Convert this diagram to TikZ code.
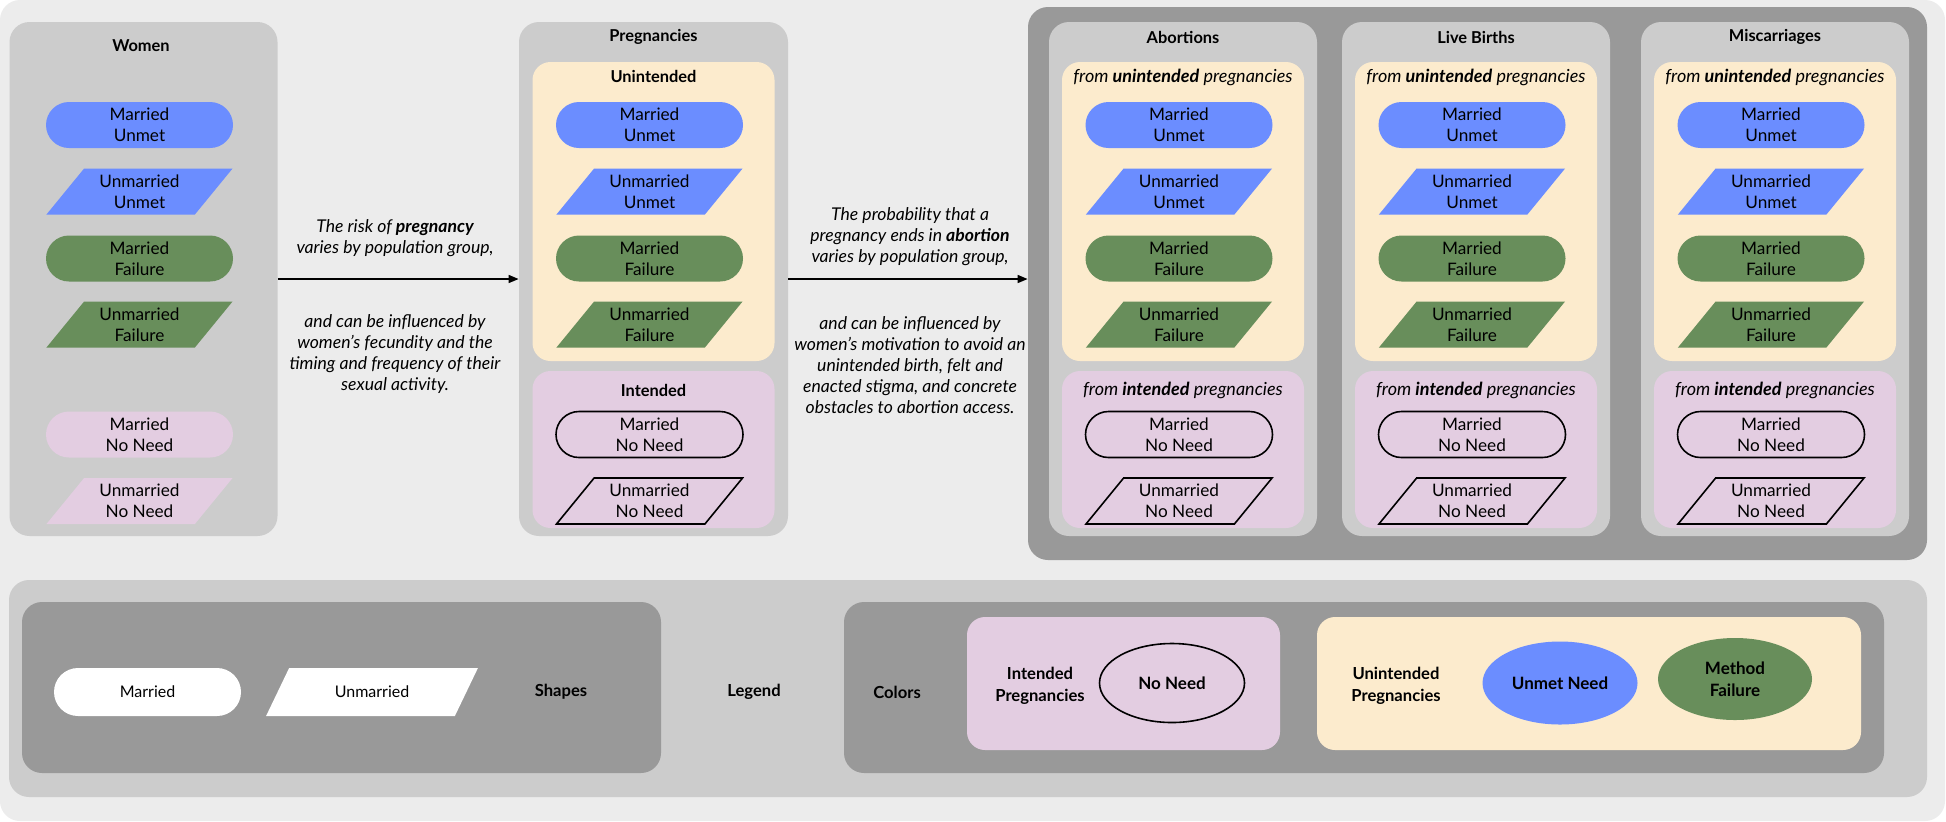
\documentclass[tikz,border=0pt]{standalone}
\usepackage{fontspec}
\setmainfont{Lato}
\usetikzlibrary{shapes.geometric,arrows.meta}
\definecolor{pagebg}{HTML}{ECECEC}
\definecolor{boxgray}{HTML}{CCCCCC}
\definecolor{darkgray}{HTML}{999999}
\definecolor{blueF}{HTML}{6B8DFF}
\definecolor{greenF}{HTML}{688E5B}
\definecolor{beigeF}{HTML}{FCEBCD}
\definecolor{pinkF}{HTML}{E3CDE1}
\begin{document}
\begin{tikzpicture}[x=0.5pt,y=-0.5pt,
  panel/.style={fill=boxgray, rounded corners=10pt, inner sep=0pt, draw=none},
  darkpanel/.style={fill=darkgray, rounded corners=10pt, inner sep=0pt, draw=none},
  subU/.style={fill=beigeF, rounded corners=9pt, inner sep=0pt, minimum width=121pt, minimum height=149.5pt},
  subI/.style={fill=pinkF, rounded corners=9pt, inner sep=0pt, minimum width=121pt, minimum height=78.5pt},
  ttl/.style={font=\fontsize{8.2}{10}\selectfont\bfseries, inner sep=0pt},
  subttl/.style={font=\fontsize{9}{10}\selectfont\itshape, inner sep=0pt},
  shp/.style={inner sep=0pt, align=center, font=\fontsize{8.6}{10.4}\selectfont},
  stad/.style={shp, rectangle, rounded corners=11.5pt, minimum width=93.5pt, minimum height=23pt},
  para/.style={shp, trapezium, trapezium left angle=51, trapezium right angle=129, trapezium stretches=true, minimum width=93.5pt, minimum height=23pt},
  bluef/.style={fill=blueF},
  greenf/.style={fill=greenF},
  pinkf/.style={fill=pinkF},
  outl/.style={draw=black, line width=0.8pt},
  lbl/.style={align=center, inner sep=0pt, font=\fontsize{8.8}{10.5}\selectfont\itshape},
  arr/.style={-{Triangle[length=5pt,width=4pt]}, line width=0.75pt, black},
  leg/.style={inner sep=0pt, align=center, font=\fontsize{8}{11}\selectfont},
  legb/.style={leg, font=\fontsize{8.3}{11}\selectfont\bfseries},
  ell/.style={ellipse, inner sep=0pt, align=center, font=\fontsize{8.5}{11}\selectfont\bfseries}
]
\useasboundingbox (0,0) rectangle (1946,821);
\fill[white] (0,0) rectangle (1946,821);
\fill[pagebg, rounded corners=10pt] (0,0) rectangle (1945,821);

% ---------------- Women
\node[panel, minimum width=134pt, minimum height=257pt] (women) at (143.5,279) {};
\node[ttl] (w-title) at (141,46) {Women};
\node[stad,bluef] (w-mu) at (139.5,125) {Married\\Unmet};
\node[para,bluef] (w-uu) at (139.5,191.5) {Unmarried\\Unmet};
\node[stad,greenf] (w-mf) at (139.5,258.5) {Married\\Failure};
\node[para,greenf] (w-uf) at (139.5,324.5) {Unmarried\\Failure};
\node[stad,pinkf] (w-mn) at (139.5,434.5) {Married\\No Need};
\node[para,pinkf] (w-un) at (139.5,501) {Unmarried\\No Need};

% ---------------- Pregnancies
\node[panel, minimum width=134.5pt, minimum height=257pt] (preg) at (653.5,279) {};
\node[ttl] (p-title) at (653.5,37) {Pregnancies};
\node[subU] (p-unint) at (653.5,211.5) {};
\node[ttl] (p-unint-title) at (653.5,76) {Unintended};
\node[subI] (p-int) at (653.5,449.5) {};
\node[ttl] (p-int-title) at (653.5,390) {Intended};
\node[stad,bluef] (p-mu) at (649.5,125) {Married\\Unmet};
\node[para,bluef] (p-uu) at (649.5,191.5) {Unmarried\\Unmet};
\node[stad,greenf] (p-mf) at (649.5,258.5) {Married\\Failure};
\node[para,greenf] (p-uf) at (649.5,324.5) {Unmarried\\Failure};
\node[stad,outl] (p-mn) at (649.5,434.5) {Married\\No Need};
\node[para,outl] (p-un) at (649.5,501) {Unmarried\\No Need};

% ---------------- Outcomes
\node[darkpanel, minimum width=449.5pt, minimum height=276.5pt] (outcomes) at (1477.5,283.5) {};
\foreach \cx/\nm/\tt in {1183/ab/Abortions,1476/lb/Live Births,1775/mc/Miscarriages}{
  \node[panel, minimum width=134pt, minimum height=257pt] (\nm) at (\cx,279) {};
  \node[ttl] (\nm-title) at (\cx,37) {\tt};
  \node[subU] (\nm-unint) at (\cx,211.5) {};
  \node[subttl] (\nm-unint-title) at (\cx,77) {from \textbf{unintended} pregnancies};
  \node[subI] (\nm-int) at (\cx,449.5) {};
  \node[subttl] (\nm-int-title) at (\cx,390) {from \textbf{intended} pregnancies};
  \pgfmathsetmacro\sx{\cx-4}
  \node[stad,bluef] (\nm-mu) at (\sx,125) {Married\\Unmet};
  \node[para,bluef] (\nm-uu) at (\sx,191.5) {Unmarried\\Unmet};
  \node[stad,greenf] (\nm-mf) at (\sx,258.5) {Married\\Failure};
  \node[para,greenf] (\nm-uf) at (\sx,324.5) {Unmarried\\Failure};
  \node[stad,outl] (\nm-mn) at (\sx,434.5) {Married\\No Need};
  \node[para,outl] (\nm-un) at (\sx,501) {Unmarried\\No Need};
}

% ---------------- Arrows and their texts
\draw[arr] (women.east) -- (preg.west);
\draw[arr] (preg.east) -- (preg.east -| outcomes.west);
\node[lbl] (t1a) at (395,238) {The risk of \textbf{pregnancy}\\varies by population group,};
\node[lbl] (t1b) at (395,354.5) {and can be influenced by\\women’s fecundity and the\\timing and frequency of their\\sexual activity.};
\node[lbl] (t2a) at (910,237) {The probability that a\\pregnancy ends in \textbf{abortion}\\varies by population group,};
\node[lbl] (t2b) at (910,365) {and can be influenced by\\women’s motivation to avoid an\\unintended birth, felt and\\enacted stigma, and concrete\\obstacles to abortion access.};

% ---------------- Legend
\node[panel, minimum width=959pt, minimum height=108.5pt] (legend) at (968,688.5) {};
\node[darkpanel, minimum width=319.5pt, minimum height=85.5pt] (shapesbox) at (341.5,687.5) {};
\node[darkpanel, minimum width=520pt, minimum height=85.5pt] (colorsbox) at (1364,687.5) {};
\node[fill=pinkF, rounded corners=9pt, inner sep=0pt, minimum width=156.5pt, minimum height=66.5pt] (intbox) at (1123.5,683.5) {};
\node[fill=beigeF, rounded corners=9pt, inner sep=0pt, minimum width=272pt, minimum height=66.5pt] (unintbox) at (1589,683.5) {};

\node[leg, rectangle, fill=white, rounded corners=12pt, minimum width=93.5pt, minimum height=24pt] (l-married) at (147.5,692) {Married};
\node[leg, trapezium, trapezium left angle=49, trapezium right angle=131, trapezium stretches=true, fill=white, minimum width=106pt, minimum height=24pt] (l-unmarried) at (372,692) {Unmarried};
\node[legb] (l-shapes) at (561,692) {Shapes};
\node[legb] (l-legend) at (754,692) {Legend};
\node[legb] (l-colors) at (897,692) {Colors};
\node[legb] (l-intended) at (1040,686) {Intended\\Pregnancies};
\node[ell, draw=black, line width=0.8pt, minimum width=72.5pt, minimum height=39.5pt] (l-noneed) at (1172,683) {No Need};
\node[legb] (l-unintended) at (1396,686) {Unintended\\Pregnancies};
\node[ell, fill=blueF, minimum width=77.5pt, minimum height=41.5pt] (l-unmet) at (1560,683) {Unmet Need};
\node[ell, fill=greenF, minimum width=77pt, minimum height=41pt] (l-failure) at (1735,679) {Method\\Failure};
\end{tikzpicture}
\end{document}
